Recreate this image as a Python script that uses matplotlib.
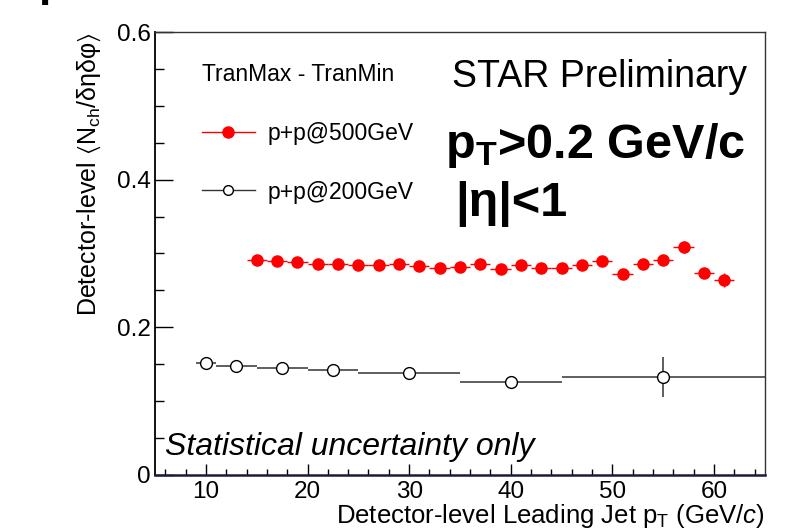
import matplotlib
matplotlib.use("Agg")
import matplotlib.pyplot as plt
from matplotlib.lines import Line2D
from matplotlib.ticker import MultipleLocator

plt.rcParams['font.family'] = ['Liberation Sans', 'DejaVu Sans']
plt.rcParams['mathtext.fontset'] = 'custom'
plt.rcParams['mathtext.rm'] = 'Liberation Sans'
plt.rcParams['mathtext.it'] = 'Liberation Sans:italic'
plt.rcParams['mathtext.bf'] = 'Liberation Sans:bold'
plt.rcParams['mathtext.fallback'] = 'stixsans'

# p+p @ 500 GeV, 2 GeV wide jet-pT bins
pt_500 = [15, 17, 19, 21, 23, 25, 27, 29, 31, 33, 35, 37,
          39, 41, 43, 45, 47, 49, 51, 53, 55, 57, 59, 61]
dens_500 = [0.291, 0.290, 0.288, 0.286, 0.286, 0.285, 0.285, 0.286, 0.283, 0.281, 0.282, 0.286,
            0.279, 0.284, 0.280, 0.281, 0.284, 0.290, 0.272, 0.286, 0.291, 0.309, 0.274, 0.264]
xerr_500 = [1.0] * len(pt_500)
yerr_500 = [0.002, 0.002, 0.002, 0.002, 0.002, 0.002, 0.002, 0.002, 0.003, 0.003, 0.003, 0.003,
            0.003, 0.003, 0.004, 0.004, 0.004, 0.005, 0.005, 0.006, 0.006, 0.008, 0.007, 0.009]

# p+p @ 200 GeV, variable bins
pt_200 = [10, 13, 17.5, 22.5, 30, 40, 55]
dens_200 = [0.152, 0.148, 0.1445, 0.142, 0.1387, 0.1265, 0.133]
xerr_200 = [1.0, 2.0, 2.5, 2.5, 5.0, 5.0, 10.0]
yerr_200 = [0.002, 0.002, 0.002, 0.002, 0.003, 0.005, 0.027]

fig = plt.figure(figsize=(7.91, 5.30), dpi=100)
ax = fig.add_axes([0.196, 0.1038, 0.771, 0.8358])

ax.errorbar(pt_500, dens_500, xerr=xerr_500, yerr=yerr_500, fmt='o', color='red',
            ms=8, mec='red', mfc='red', elinewidth=1, capsize=0, zorder=3)
ax.errorbar(pt_200, dens_200, xerr=xerr_200, yerr=yerr_200, fmt='o', color='#333333',
            ms=8.5, mec='black', mfc='white', mew=1, elinewidth=1.1, capsize=0, zorder=3)

ax.set_xlim(5, 65)
ax.set_ylim(0, 0.6)
ax.xaxis.set_major_locator(MultipleLocator(10))
ax.xaxis.set_minor_locator(MultipleLocator(2))
ax.yaxis.set_major_locator(MultipleLocator(0.2))
ax.yaxis.set_minor_locator(MultipleLocator(0.05))
ax.set_yticks([0, 0.2, 0.4, 0.6])
ax.set_yticklabels(['0', '0.2', '0.4', '0.6'])

ax.tick_params(axis='both', which='both', direction='in', top=False, right=False,
               labelsize=17.5, colors='black')
ax.tick_params(axis='y', which='major', length=13, width=1, pad=3)
ax.tick_params(axis='y', which='minor', length=6.5, width=1)
ax.tick_params(axis='x', which='major', length=8, width=1, pad=4)
ax.tick_params(axis='x', which='minor', length=4.5, width=1)

for side in ['top', 'right']:
    ax.spines[side].set_linewidth(1.0)
    ax.spines[side].set_color('#333333')
ax.spines['left'].set_linewidth(1.3)
ax.spines['bottom'].set_linewidth(1.8)
ax.spines['bottom'].set_color('#1a1a3a')

ax.set_ylabel(r"Detector-level $\langle\mathregular{N_{ch}}$/δηδφ$\rangle$", fontsize=18, loc='top')
ax.yaxis.set_label_coords(-0.086, 1.0)
ax.set_xlabel(r"Detector-level Leading Jet p$_{\mathregular{T}}$ (GeV/$\mathit{c}$)",
              fontsize=18.5, loc='right')
ax.xaxis.set_label_coords(1.0, -0.061)

handles = [
    Line2D([], [], color='red', marker='o', ms=8, lw=1),
    Line2D([], [], color='#333333', marker='o', ms=7, mfc='white', mec='black', lw=1),
]
ax.legend(handles, ['p+p@500GeV', 'p+p@200GeV'], title='TranMax - TranMin',
          loc='upper left', bbox_to_anchor=(0.077, 0.929), frameon=False,
          fontsize=16.5, title_fontsize=16.5, borderpad=0, borderaxespad=0,
          handlelength=2.3, handletextpad=0.55, labelspacing=1.55, alignment='left')

ax.text(0.487, 0.8765, 'STAR Preliminary', transform=ax.transAxes, fontsize=27,
        va='baseline', ha='left')
ax.text(0.475, 0.7156, r"$\mathbf{p}_{\mathbf{T}}$>0.2 GeV/c", transform=ax.transAxes,
        fontsize=35, fontweight='bold', va='baseline', ha='left')
ax.text(0.492, 0.5847, '|η|<1', transform=ax.transAxes, fontsize=35,
        fontweight='bold', va='baseline', ha='left')
ax.text(0.0164, 0.045, 'Statistical uncertainty only', transform=ax.transAxes,
        fontsize=23, style='italic', va='baseline', ha='left')

# descender of a heading that sits above the page edge
fig.text(0.048, 1.0 + 4 / 530, 'p', fontsize=32, fontweight='bold', va='baseline', ha='left')

fig.savefig('out.png', dpi=100)
